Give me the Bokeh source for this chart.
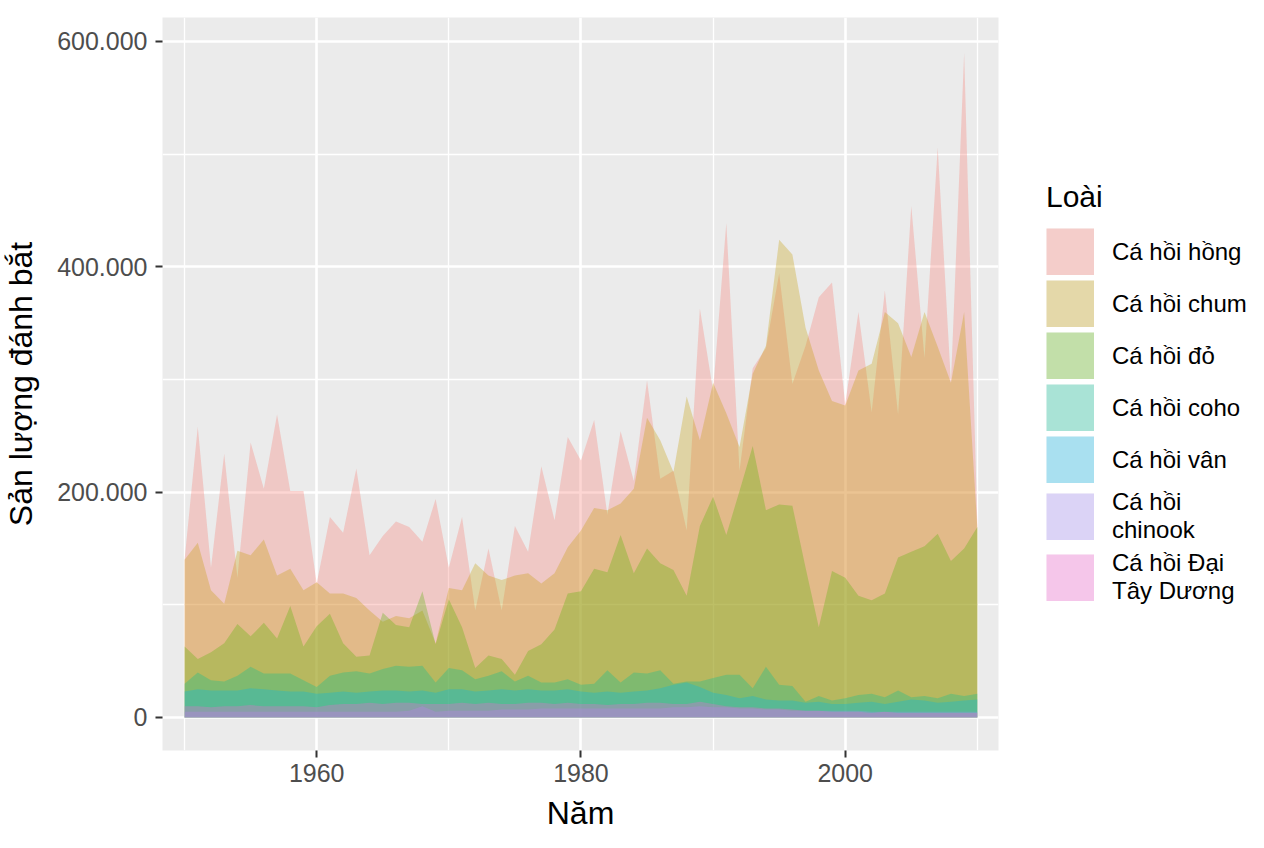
from bokeh.plotting import figure
from bokeh.models import Range1d, FixedTicker, Legend, LegendItem
from bokeh.layouts import row
from bokeh.embed import file_html
from bokeh.resources import INLINE

years = list(range(1950, 2011))

# catch, in thousands
pink = [140, 258, 133, 234, 124, 244, 203, 269, 201, 201,
        119, 178, 164, 221, 144, 161, 174, 169, 156, 194,
        133, 178, 95, 150, 95, 170, 147, 223, 175, 249,
        228, 264, 180, 254, 210, 299, 212, 219, 166, 363,
        290, 439, 219, 310, 328, 394, 296, 330, 373, 386,
        278, 360, 271, 379, 269, 454, 319, 506, 297, 590, 172]
chum = [140, 155, 113, 101, 148, 144, 158, 126, 132, 113,
        120, 110, 110, 106, 95, 85, 90, 88, 95, 66,
        115, 113, 137, 126, 122, 126, 128, 119, 128, 151,
        166, 186, 184, 190, 203, 266, 246, 218, 285, 246,
        297, 270, 240, 305, 330, 424, 411, 346, 308, 281,
        277, 308, 314, 360, 350, 320, 360, 329, 297, 360, 168]
sockeye = [63, 52, 58, 66, 83, 72, 84, 70, 99, 63,
           81, 92, 66, 54, 55, 93, 82, 80, 112, 65,
           105, 80, 44, 55, 52, 38, 59, 65, 78, 110,
           112, 132, 129, 162, 128, 150, 137, 131, 108, 170,
           196, 162, 201, 241, 184, 189, 188, 133, 80, 130,
           124, 108, 104, 110, 142, 147, 152, 163, 139, 150, 169]
coho = [30, 40, 33, 32, 37, 45, 39, 39, 39, 33,
        27, 37, 40, 41, 39, 43, 46, 45, 46, 31,
        44, 42, 34, 37, 41, 32, 37, 31, 31, 34,
        29, 30, 42, 31, 40, 39, 42, 30, 32, 32,
        35, 38, 38, 26, 45, 29, 28, 14, 19, 15,
        17, 20, 21, 18, 24, 18, 19, 17, 21, 19, 21]
steelhead = [23, 25, 24, 24, 24, 26, 25, 24, 23, 23,
             21, 22, 23, 22, 23, 24, 24, 23, 24, 22,
             25, 25, 23, 24, 25, 24, 25, 24, 24, 25,
             23, 22, 23, 22, 23, 24, 26, 29, 31, 27,
             22, 20, 17, 19, 16, 15, 15, 13, 14, 12,
             12, 13, 14, 12, 14, 16, 15, 13, 14, 15, 16]
chinook = [5, 5, 5, 5, 5, 5, 5, 5, 5, 5,
           5, 5, 5, 5, 5, 5, 5, 6, 10, 5,
           6, 6, 6, 6, 7, 7, 7, 8, 8, 8,
           8, 8, 8, 8, 8, 8, 8, 9, 9, 10,
           9, 9, 8, 8, 7, 7, 6, 6, 6, 6,
           6, 6, 5, 5, 5, 5, 5, 5, 5, 5, 5]
atlantic = [10, 10, 9, 10, 10, 11, 10, 10, 10, 10,
            9, 11, 12, 12, 13, 12, 13, 13, 12, 12,
            12, 13, 12, 13, 12, 12, 13, 13, 12, 13,
            12, 12, 11, 12, 12, 13, 13, 12, 12, 14,
            12, 10, 9, 9, 8, 8, 7, 6, 6, 5,
            5, 5, 4, 5, 4, 4, 4, 4, 4, 4, 4]

species = ["Cá hồi hồng", "Cá hồi chum", "Cá hồi đỏ", "Cá hồi coho",
           "Cá hồi vân", "Cá hồi\nchinook", "Cá hồi Đại\nTây Dương"]
colors = ["#F8766D", "#C49A00", "#53B400", "#00C094", "#00B6EB", "#A58AFF", "#FB61D7"]
series = [pink, chum, sockeye, coho, steelhead, chinook, atlantic]

x_ticks = [1960, 1980, 2000]
x_minor = [1950, 1970, 1990, 2010]
x_tick_labels = ["1960", "1980", "2000"]
y_ticks = [0, 200000, 400000, 600000]
y_minor = [100000, 300000, 500000]
y_tick_labels = ["0", "200.000", "400.000", "600.000"]

FONT = "Liberation Sans"
ALPHA = 0.3

p = figure(width=1006, height=848, output_backend="svg", toolbar_location=None,
           x_range=Range1d(1948.33, 2011.6), y_range=Range1d(-29300, 621300),
           min_border_left=158, min_border_right=8, min_border_top=17,
           min_border_bottom=98)
p.background_fill_color = "#EBEBEB"
p.border_fill_color = "white"
p.outline_line_color = None

for vals, col in zip(series, colors):
    p.varea(x=years, y1=0, y2=[v * 1000 for v in vals],
            fill_color=col, fill_alpha=ALPHA)

p.xaxis.ticker = FixedTicker(ticks=x_ticks, minor_ticks=x_minor)
p.xaxis.major_label_overrides = dict(zip(x_ticks, x_tick_labels))
p.yaxis.ticker = FixedTicker(ticks=y_ticks, minor_ticks=y_minor)
p.yaxis.major_label_overrides = dict(zip(y_ticks, y_tick_labels))

for ax in (p.xaxis[0], p.yaxis[0]):
    ax.axis_line_color = None
    ax.major_tick_line_color = "#333333"
    ax.major_tick_line_width = 2
    ax.major_tick_out = 7
    ax.major_tick_in = 0
    ax.minor_tick_line_color = None
    ax.major_label_text_font = FONT
    ax.major_label_text_font_size = "25px"
    ax.major_label_text_color = "#4D4D4D"
    ax.axis_label_text_font = FONT
    ax.axis_label_text_font_size = "32px"
    ax.axis_label_text_font_style = "normal"
    ax.axis_label_text_color = "black"

p.xaxis.axis_label = "Năm"
p.xaxis.major_label_standoff = 6
p.xaxis.axis_label_standoff = 10
p.yaxis.axis_label = "Sản lượng đánh bắt"
p.yaxis.major_label_standoff = 8
p.yaxis.axis_label_standoff = 15

for g in (p.xgrid[0], p.ygrid[0]):
    g.grid_line_color = "white"
    g.grid_line_width = 2.6
    g.minor_grid_line_color = "white"
    g.minor_grid_line_width = 1.3

# legend panel (key swatches only; nothing is drawn in its empty frame)
lg = figure(width=258, height=848, output_backend="svg", toolbar_location=None,
            x_range=Range1d(0, 1), y_range=Range1d(0, 1),
            x_axis_type=None, y_axis_type=None,
            min_border_left=0, min_border_right=0, min_border_top=0, min_border_bottom=0)
lg.grid.visible = False
lg.outline_line_color = None
lg.background_fill_color = "white"
lg.border_fill_color = "white"

NAN = float("nan")
items = []
for col, lab in zip(colors, species):
    bg = lg.line(x=[NAN], y=[NAN], line_color="#F2F2F2", line_width=47,
                 line_cap="butt")
    fg = lg.line(x=[NAN], y=[NAN], line_color=col, line_alpha=ALPHA,
                 line_width=47, line_cap="butt")
    items.append(LegendItem(label=lab, renderers=[bg, fg]))

legend = Legend(items=items, location=(40, 145), title="Loài",
                glyph_width=48, glyph_height=47, spacing=5, padding=0, margin=0,
                label_standoff=18, title_standoff=14,
                title_text_font=FONT, title_text_font_size="30px",
                title_text_font_style="normal", title_text_color="black",
                label_text_font=FONT, label_text_font_size="24px",
                label_text_color="black", label_text_line_height=0.9,
                background_fill_alpha=0, border_line_color=None)
lg.add_layout(legend)

layout = row(p, lg)
open("out.html", "w").write(file_html(layout, INLINE))
